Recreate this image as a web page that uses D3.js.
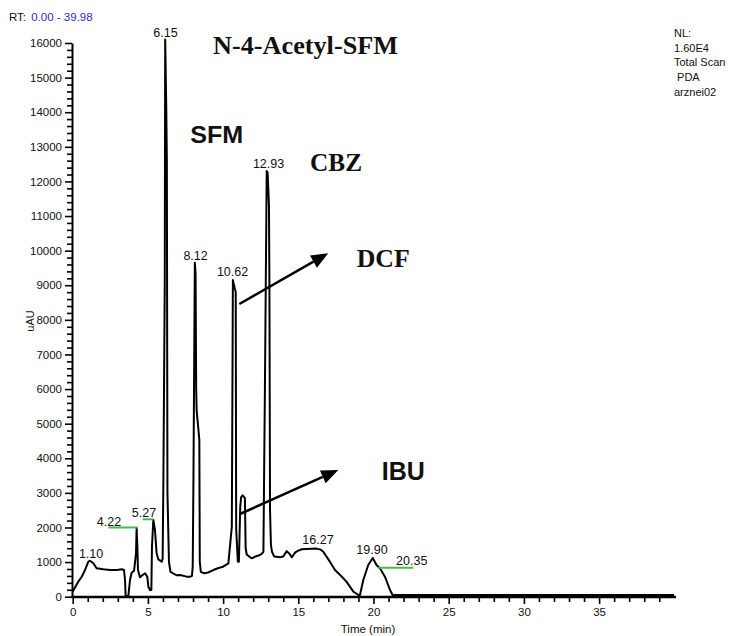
<!DOCTYPE html>
<html><head><meta charset="utf-8">
<script src="https://cdn.jsdelivr.net/npm/d3@7"></script>
<style>body{margin:0;background:#fff} svg{display:block}</style>
</head><body><svg id="c" width="734" height="636"></svg>
<script>
// ---- data ----
const traceTime = [0.00,0.37,0.60,0.82,1.04,1.15,1.37,1.60,2.04,2.48,2.93,3.26,3.41,3.48,3.52,3.70,3.81,3.92,4.08,4.21,4.25,4.30,4.34,4.47,4.65,4.81,4.96,5.03,5.14,5.23,5.27,5.36,5.47,5.58,5.69,5.92,5.98,6.03,6.12,6.15,6.22,6.26,6.30,6.40,6.50,6.90,7.13,7.58,7.80,7.93,7.98,8.03,8.12,8.17,8.21,8.24,8.42,8.45,8.52,8.74,9.00,9.35,9.70,10.00,10.35,10.58,10.62,10.65,10.70,10.84,10.87,10.98,11.05,11.14,11.20,11.30,11.45,11.50,11.57,11.80,11.90,12.20,12.45,12.60,12.68,12.78,12.90,12.96,13.05,13.08,13.12,13.18,13.25,13.40,13.56,13.78,14.00,14.23,14.40,14.56,14.80,15.00,15.23,16.22,16.50,16.66,17.10,17.44,17.80,18.20,18.66,19.00,19.10,19.32,19.65,19.95,20.20,20.43,20.76,21.10,21.27,39.98];
const traceValue = [150,434,578,772,1012,1040,965,820,791,772,772,791,772,483,20,20,483,694,752,1254,1995,1445,772,560,627,676,578,289,194,194,1445,2217,1928,1254,1080,1012,1100,3400,9000,16100,14150,12600,3000,1010,720,620,627,580,578,600,870,3500,9650,9350,6000,5400,4530,1010,720,676,700,770,830,867,965,2020,6000,9150,9050,8800,1950,1010,1010,2600,2880,2930,2850,1400,1220,1140,1110,1170,1205,1250,1300,6000,12300,12250,11300,9000,2500,1500,1300,1160,1156,1140,1160,1316,1250,1138,1282,1330,1370,1390,1360,1300,1012,772,620,434,145,50,50,483,916,1120,916,820,578,194,50,50];

const xTickValues = d3.range(0, 40);
const yTickValues = d3.range(0, 16001, 200);

const peakLabelText  = ["1.10","4.22","5.27","6.15","8.12","10.62","12.93","16.27","19.90","20.35"];
const peakLabelTime  = [1.22, 2.41, 4.74, 6.17, 8.17, 10.63, 13.02, 16.31, 19.90, 22.54];
const peakLabelValue = [1118, 2043, 2303, 16178, 9717, 9255, 12389, 1523, 1234, 916];

const baseLineStart = [2.37, 4.65, 20.32];
const baseLineEnd   = [4.30, 5.36, 22.65];
const baseLineValue = [2000, 2237, 838];

const compoundText  = ["N-4-Acetyl-SFM","SFM","CBZ","DCF","IBU"];
const compoundTime  = [9.33, 7.81, 15.78, 18.88, 20.55];
const compoundValue = [15684, 13103, 12300, 9520, 3373];

const arrowStartTime  = [11.08, 11.12];
const arrowStartValue = [8459, 2390];
const arrowEndTime    = [16.99, 17.66];
const arrowEndValue   = [9924, 3662];

const headerInfo = ["NL:", "1.60E4", "Total Scan", " PDA", "arznei02"];

// ---- drawing ----
const svg = d3.select("#c");
const sans = "'Liberation Sans', Arial, Helvetica, sans-serif";
const serif = "'Liberation Serif', 'Times New Roman', serif";

const x = d3.scaleLinear().domain([0, 39.98]).range([72.7, 674]);
const y = d3.scaleLinear().domain([0, 16000]).range([596.7, 43]);

// Y axis
const yAxis = d3.axisLeft(y).tickValues(yTickValues)
  .tickFormat(d => d % 1000 === 0 ? d : "").tickSize(5).tickSizeOuter(0).tickPadding(5);
const gy = svg.append("g").attr("transform", "translate(72,0)").call(yAxis);
gy.select(".domain").attr("stroke", "#000").attr("stroke-width", 2);
gy.selectAll(".tick line").attr("stroke", "#000").attr("stroke-width", 1.6)
  .attr("x2", d => d % 1000 === 0 ? -7 : -5);
gy.selectAll(".tick text").attr("font-family", sans).attr("font-size", 11.5).attr("fill", "#111");

// X axis
const xAxis = d3.axisBottom(x).tickValues(xTickValues)
  .tickFormat(d => d % 5 === 0 ? d : "").tickSize(4).tickSizeOuter(0).tickPadding(7);
const gx = svg.append("g").attr("transform", "translate(0,597)").call(xAxis);
gx.select(".domain").attr("stroke", "#000").attr("stroke-width", 2.5)
  .attr("d", `M${x(0)-1},0H${x(39.98)+2}`);
gx.selectAll(".tick line").attr("stroke", "#000").attr("stroke-width", 1.6)
  .attr("y2", d => d % 5 === 0 ? 7 : 5);
gx.selectAll(".tick text").attr("font-family", sans).attr("font-size", 11.5).attr("fill", "#111");

// axis titles
svg.append("text").attr("x", 368).attr("y", 633).attr("text-anchor", "middle")
  .attr("font-family", sans).attr("font-size", 11.5).attr("fill", "#111").text("Time (min)");
svg.append("text").attr("transform", "translate(34,321) rotate(-90)").attr("text-anchor", "middle")
  .attr("font-family", sans).attr("font-size", 11).attr("fill", "#111").text("uAU");

// header
const rt = svg.append("text").attr("x", 9).attr("y", 21).attr("font-family", sans).attr("font-size", 11.5);
rt.append("tspan").attr("fill", "#111").text("RT: ");
rt.append("tspan").attr("fill", "#2b2bc4").attr("dx", 2).text("0.00 - 39.98");

svg.selectAll("text.info").data(headerInfo).join("text").attr("class", "info")
  .attr("x", 674).attr("y", (d, i) => 37 + i * 14.7)
  .attr("font-family", sans).attr("font-size", 11).attr("fill", "#111")
  .attr("xml:space", "preserve").style("white-space", "pre").text(d => d);

// trace
const pts = traceTime.map((t, i) => [t, traceValue[i]]);
svg.append("path").datum(pts)
  .attr("d", d3.line().x(d => x(d[0])).y(d => y(d[1])))
  .attr("fill", "none").attr("stroke", "#000").attr("stroke-width", 2).attr("stroke-linejoin", "round");

// green integration baselines
svg.selectAll("line.base").data(baseLineStart).join("line").attr("class", "base")
  .attr("x1", (d) => x(d)).attr("x2", (d, i) => x(baseLineEnd[i]))
  .attr("y1", (d, i) => y(baseLineValue[i])).attr("y2", (d, i) => y(baseLineValue[i]))
  .attr("stroke", "#4cb84c").attr("stroke-width", 2);

// peak labels
svg.selectAll("text.pk").data(peakLabelText).join("text").attr("class", "pk")
  .attr("x", (d, i) => x(peakLabelTime[i])).attr("y", (d, i) => y(peakLabelValue[i]))
  .attr("text-anchor", "middle").attr("font-family", sans).attr("font-size", 12.5).attr("fill", "#111")
  .text(d => d);

// compound annotations
const compFont = [serif, sans, serif, serif, sans];
const compSize = [26, 24, 26, 26, 25];
const compLen  = [185, 53, 52, 53, 43];
svg.selectAll("text.cmp").data(compoundText).join("text").attr("class", "cmp")
  .attr("x", (d, i) => x(compoundTime[i])).attr("y", (d, i) => y(compoundValue[i]))
  .attr("font-family", (d, i) => compFont[i]).attr("font-size", (d, i) => compSize[i])
  .attr("font-weight", "bold").attr("fill", "#111")
  .attr("textLength", (d, i) => compLen[i]).attr("lengthAdjust", "spacingAndGlyphs")
  .text(d => d);

// arrows
arrowStartTime.forEach((t0, i) => {
  const x0 = x(t0), y0 = y(arrowStartValue[i]);
  const x1 = x(arrowEndTime[i]), y1 = y(arrowEndValue[i]);
  const ang = Math.atan2(y1 - y0, x1 - x0);
  const L = 17, W = 7;
  const bx = x1 - L * Math.cos(ang), by = y1 - L * Math.sin(ang);
  svg.append("line").attr("x1", x0).attr("y1", y0).attr("x2", bx).attr("y2", by)
    .attr("stroke", "#000").attr("stroke-width", 2.5);
  const p1 = [bx + W * Math.sin(ang), by - W * Math.cos(ang)];
  const p2 = [bx - W * Math.sin(ang), by + W * Math.cos(ang)];
  svg.append("path").attr("d", `M${x1},${y1}L${p1[0]},${p1[1]}L${p2[0]},${p2[1]}Z`).attr("fill", "#000");
});
</script>
</body></html>
